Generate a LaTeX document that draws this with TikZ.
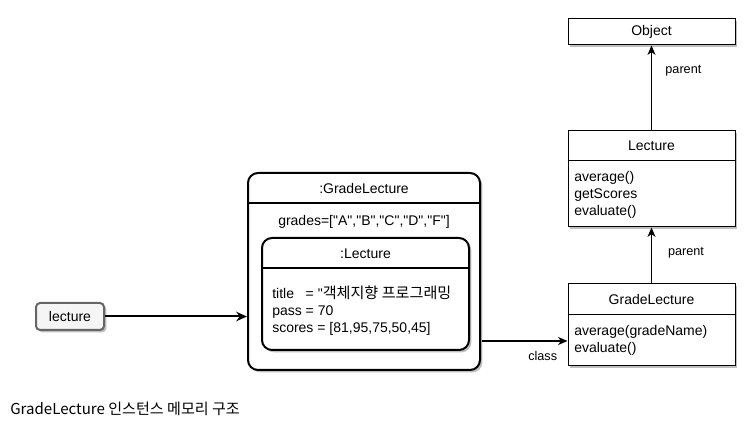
\documentclass[tikz,border=0pt]{standalone}
\usepackage{fontspec}
\setmainfont{Liberation Sans}[Ligatures=TeXOff]
\newfontfamily\krfont{Noto Sans CJK KR}[Ligatures=TeXOff]
\newfontfamily\krbody{Noto Sans CJK KR}[Scale=1.08]
\usetikzlibrary{arrows.meta,shadows}
\begin{document}
\begin{tikzpicture}[x=0.75pt,y=-0.75pt,
  shad/.style={drop shadow={shadow xshift=1.8pt,shadow yshift=-1.8pt,opacity=0.25,fill=black}},
  cls/.style={draw=black,line width=0.75pt,fill=white,shad,inner sep=0pt,minimum width=125.25pt},
  rbox/.style={draw=black,line width=1.5pt,fill=white,rounded corners=7.5pt,shad,inner sep=0pt},
  txt/.style={font=\fontsize{10.5}{12.75}\selectfont,inner sep=0pt,text=black},
  lbl/.style={font=\fontsize{9.5}{11}\selectfont,inner sep=0pt,text=black},
  arr/.style={-{Stealth[length=7pt,width=6pt,inset=2pt]},line width=0.9pt},
  thickarr/.style={-{Stealth[length=8pt,width=7pt,inset=2.5pt]},line width=1.5pt},
  var/.style={draw=black!60,line width=1.5pt,fill=black!4,rounded corners=3pt,shad,inner sep=0pt,minimum width=51pt,minimum height=20.25pt,font=\fontsize{10.5}{12.75}\selectfont}
]
\useasboundingbox (0,0) rectangle (751,423);

% Object class
\node[cls,minimum height=19.5pt,txt,draw=black,line width=0.75pt] (obj) at (651.5,32) {Object};

% Lecture class
\node[cls,minimum height=72pt] (lc) at (651.5,179) {};
\draw[line width=0.75pt] ([yshift=-22.5pt]lc.north west) -- ([yshift=-22.5pt]lc.north east);
\node[txt] (lct) at (651.5,146) {Lecture};
\node[txt,anchor=west,align=left] (lcb) at (574,195) {average()\\getScores\\evaluate()};

% GradeLecture class
\node[cls,minimum height=61.5pt] (gl) at (651.5,325) {};
\draw[line width=0.75pt] ([yshift=-23.25pt]gl.north west) -- ([yshift=-23.25pt]gl.north east);
\node[txt] (glt) at (651.5,300) {GradeLecture};
\node[txt,anchor=west,align=left] (glb) at (574,340) {average(gradeName)\\evaluate()};

% Instance box
\node[rbox,minimum width=174pt,minimum height=147.75pt] (big) at (364,271.5) {};
\draw[line width=1.5pt] ([yshift=-23.25pt]big.north west) -- ([yshift=-23.25pt]big.north east);
\node[txt] (bigt) at (364,189) {:GradeLecture};
\node[txt] (grades) at (364,222) {grades=["A","B","C","D","F"]};

% Inner Lecture part
\node[rbox,minimum width=155.25pt,minimum height=84pt] (inner) at (365.5,294) {};
\draw[line width=1.5pt] ([yshift=-23.25pt]inner.north west) -- ([yshift=-23.25pt]inner.north east);
\node[txt] (innert) at (365.5,254) {:Lecture};
\node[txt,anchor=west,align=left] (innerb) at (272,311) {title\ \ \ = "{\krbody 객체지향 프로그래밍}\\pass = 70\\scores = [81,95,75,50,45]};

% variable
\node[var] (lec) at (70,316.5) {lecture};

% connectors
\draw[thickarr] (lec.east) -- (lec.east -| big.west);
\coordinate (cs) at (482,341);
\draw[arr] (cs) -- (cs -| gl.west) node[lbl,pos=0.71,below=7pt] (clsl) {class};
\draw[arr] (lc.north) -- (obj.south) node[lbl,pos=0.70,right=10pt] (p1) {parent};
\draw[arr] (gl.north) -- (lc.south) node[lbl,pos=0.55,right=12pt] (p2) {parent};

% caption
\node[anchor=west,inner sep=0pt,font=\krfont\fontsize{11.3}{13}\selectfont] (cap) at (10,409) {GradeLecture 인스턴스 메모리 구조};
\end{tikzpicture}
\end{document}
